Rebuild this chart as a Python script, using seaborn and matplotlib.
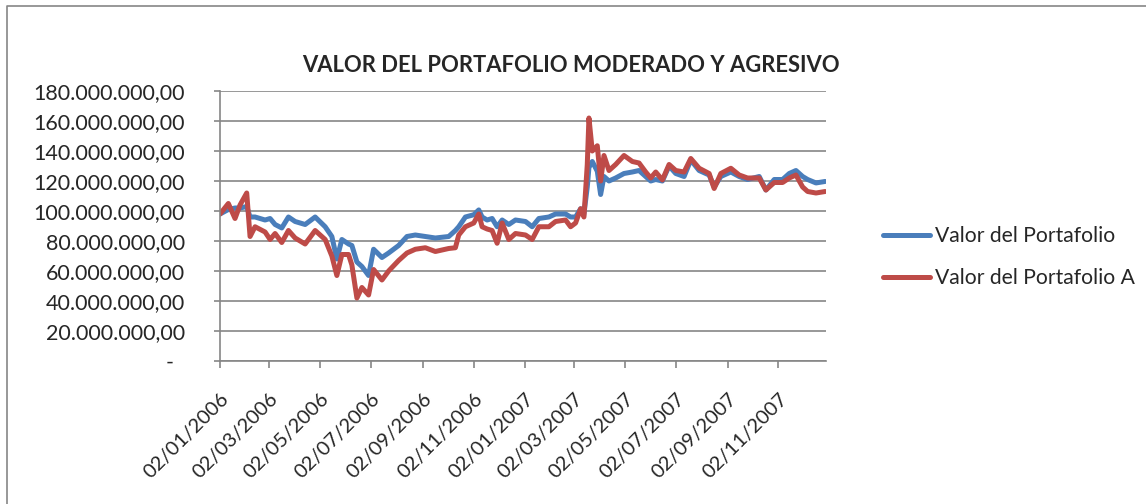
import pandas as pd
import matplotlib.pyplot as plt
import matplotlib.dates as mdates
from matplotlib.ticker import FuncFormatter, MultipleLocator
from matplotlib.lines import Line2D
import seaborn as sns

# valores (millones)
fechas = [
    "2006-01-02", "2006-01-12", "2006-01-20", "2006-01-26", "2006-02-03", "2006-02-07",
    "2006-02-13", "2006-02-25", "2006-03-03", "2006-03-09", "2006-03-17", "2006-03-25",
    "2006-04-02", "2006-04-14", "2006-04-26", "2006-05-08", "2006-05-16", "2006-05-22",
    "2006-05-28", "2006-06-05", "2006-06-09", "2006-06-15", "2006-06-21", "2006-06-29",
    "2006-07-05", "2006-07-15", "2006-07-23", "2006-08-04", "2006-08-14", "2006-08-24",
    "2006-09-05", "2006-09-17", "2006-10-03", "2006-10-11", "2006-10-15", "2006-10-23",
    "2006-11-02", "2006-11-08", "2006-11-12", "2006-11-18", "2006-11-24", "2006-11-30",
    "2006-12-06", "2006-12-14", "2006-12-22", "2007-01-03", "2007-01-11", "2007-01-19",
    "2007-01-31", "2007-02-08", "2007-02-20", "2007-02-26", "2007-03-04", "2007-03-10",
    "2007-03-14", "2007-03-18", "2007-03-20", "2007-03-24", "2007-03-30", "2007-04-03",
    "2007-04-07", "2007-04-13", "2007-04-21", "2007-05-01", "2007-05-11", "2007-05-19",
    "2007-05-27", "2007-06-02", "2007-06-08", "2007-06-16", "2007-06-24", "2007-07-02",
    "2007-07-12", "2007-07-20", "2007-07-30", "2007-08-11", "2007-08-17", "2007-08-25",
    "2007-09-06", "2007-09-16", "2007-09-26", "2007-10-10", "2007-10-18", "2007-10-28",
    "2007-11-07", "2007-11-15", "2007-11-23", "2007-12-01", "2007-12-07", "2007-12-17",
    "2007-12-28",
]
valor_moderado = [
    98, 101, 102, 102, 103, 96,
    96, 94, 95, 91, 88.7, 96,
    93, 91, 96, 89.5, 83, 68,
    81, 78, 77, 66, 63, 57,
    74.5, 69, 72, 77, 83, 84,
    83, 82, 83, 87, 89.5, 96,
    97.5, 100.7, 96, 94, 95, 89.5,
    94, 91, 94, 93, 89.5, 95,
    96, 98, 98, 96, 96, 101.5,
    98, 116, 129, 133, 126.5, 111,
    123, 120, 122, 125, 126, 127,
    123, 120, 121, 120, 130, 125,
    123, 134, 127, 124, 116, 123,
    126, 123, 121, 123, 114, 121,
    121, 125, 127, 123, 121, 118.7,
    119.7,
]
valor_agresivo = [
    98, 105, 95, 104, 112, 83,
    89.5, 86, 81, 85, 79, 87,
    82, 78, 87, 81, 70, 57,
    71, 71, 64, 42, 49, 44,
    61, 54, 60, 67, 72, 74.5,
    75.5, 73, 75, 75.5, 84, 89.5,
    92, 98, 89.5, 88, 87, 78.5,
    92, 81, 85, 84, 81, 89.5,
    89.5, 93, 94, 89.5, 92, 101.5,
    96, 131, 162, 140, 143.5, 120,
    137, 127, 131, 137, 133, 132,
    126, 122, 126, 120.7, 131, 127,
    126, 135, 128.5, 125, 115, 125,
    128.5, 124, 122, 122, 114, 119,
    119, 122, 124, 116, 113, 112,
    113,
]
series = ["Valor del Portafolio", "Valor del Portafolio A"]
ticks_x = ["2006-01-02", "2006-03-02", "2006-05-02", "2006-07-02", "2006-09-02", "2006-11-02",
           "2007-01-02", "2007-03-02", "2007-05-02", "2007-07-02", "2007-09-02", "2007-11-02"]

df = pd.DataFrame({
    "fecha": pd.to_datetime(fechas * 2),
    "valor": [v * 1e6 for v in valor_moderado + valor_agresivo],
    "serie": [series[0]] * len(fechas) + [series[1]] * len(fechas),
})

sns.set_style("white")
plt.rcParams["font.family"] = ["Lato", "DejaVu Sans"]

gris = "#868686"
fig = plt.figure(figsize=(11.46, 5.04), dpi=100)
ax = fig.add_axes([220 / 1146, 1 - 361 / 504, 606 / 1146, 270 / 504])

sns.lineplot(data=df, x="fecha", y="valor", hue="serie", hue_order=series,
             palette=["#4A7EBB", "#BE4B48"], linewidth=3.6, ax=ax)

ax.set_ylim(0, 180e6)
ax.yaxis.set_major_locator(MultipleLocator(20e6))
ax.set_xlim(pd.Timestamp("2006-01-02"), pd.Timestamp("2007-12-29"))
ax.set_xticks(pd.to_datetime(ticks_x))
ax.xaxis.set_major_formatter(mdates.DateFormatter("%d/%m/%Y"))


def fmt_es(v, pos):
    if v == 0:
        return "-  "
    s = f"{v:,.2f}"
    return s.replace(",", "X").replace(".", ",").replace("X", ".")


ax.yaxis.set_major_formatter(FuncFormatter(fmt_es))
ax.set_xlabel("")
ax.set_ylabel("")
ax.yaxis.grid(True, color=gris, linewidth=1.2)
ax.xaxis.grid(False)
for s in ["top", "right"]:
    ax.spines[s].set_visible(False)
for s in ["left", "bottom"]:
    ax.spines[s].set_color(gris)
    ax.spines[s].set_linewidth(1.2)
ax.tick_params(axis="y", left=True, length=4, width=1.2, color=gris, pad=21, labelsize=15.5)
ax.tick_params(axis="x", bottom=True, length=5, width=1.2, color=gris, pad=16, labelsize=14.5)
for lbl in ax.get_xticklabels():
    lbl.set_rotation(45)
    lbl.set_ha("right")
    lbl.set_va("top")
    lbl.set_rotation_mode("anchor")

fig.text(0.498, 1 - 66 / 504, "VALOR DEL PORTAFOLIO MODERADO Y AGRESIVO",
         ha="center", va="center", fontsize=15.8, fontweight="bold")

handles, labels = ax.get_legend_handles_labels()
for h in handles:
    h.set_linewidth(3.6)
ax.legend(handles, labels, loc="center left", bbox_to_anchor=(872 / 1146, 1 - 257 / 504),
          bbox_transform=fig.transFigure, frameon=False, fontsize=15.2,
          handlelength=2.25, handletextpad=0.25, labelspacing=1.05, borderpad=0)

# borde del area del grafico (izquierda y arriba)
fig.lines.append(Line2D([7 / 1146, 7 / 1146, 1.0], [0.0, 1 - 6 / 504, 1 - 6 / 504],
                        transform=fig.transFigure, color=gris, linewidth=1.2))

fig.savefig("out.png", dpi=100)
